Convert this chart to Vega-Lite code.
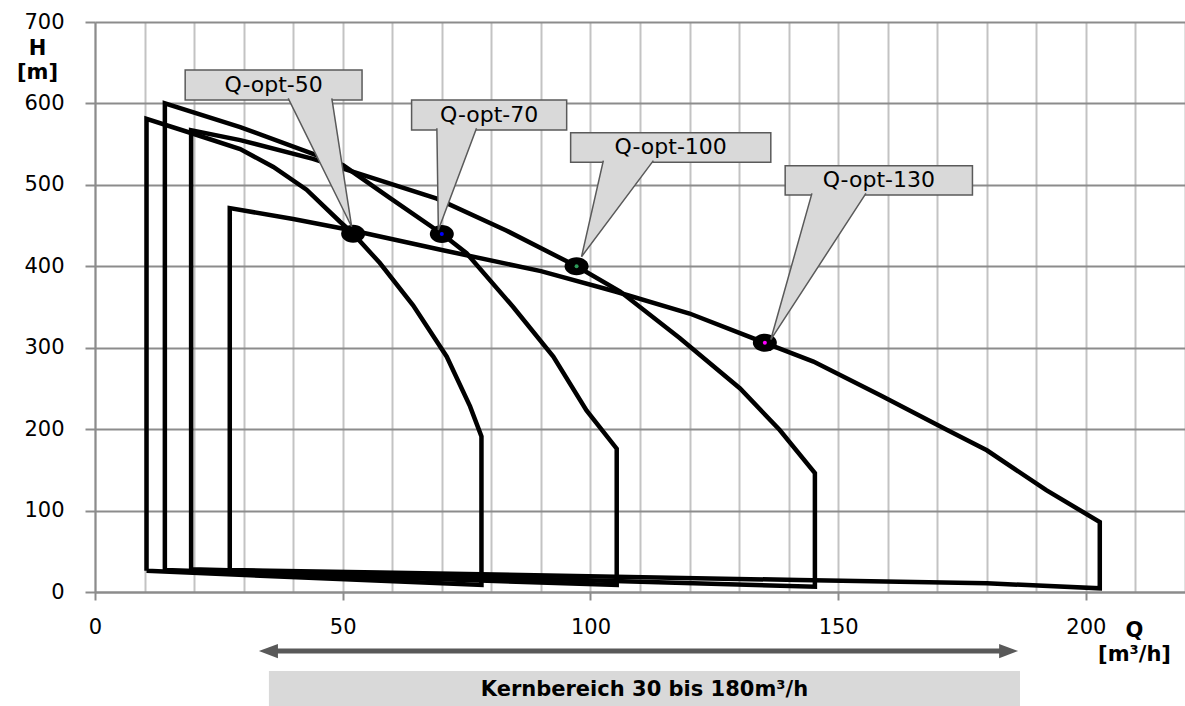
{
  "$schema": "https://vega.github.io/schema/vega-lite/v6.json",
  "width": 1090,
  "height": 570,
  "autosize": "none",
  "padding": {"left": 95, "top": 22, "right": 0, "bottom": 114},
  "background": "white",
  "config": {"view": {"stroke": null}, "font": "DejaVu Sans"},
  "datasets": {
    "pumps": [
      {"pump": "Q50", "i": 1, "q": 10.4, "h": 26},
      {"pump": "Q50", "i": 2, "q": 10.4, "h": 581},
      {"pump": "Q50", "i": 3, "q": 19.2, "h": 564},
      {"pump": "Q50", "i": 4, "q": 29.3, "h": 544},
      {"pump": "Q50", "i": 5, "q": 36, "h": 522},
      {"pump": "Q50", "i": 6, "q": 42.7, "h": 494},
      {"pump": "Q50", "i": 7, "q": 49.4, "h": 455},
      {"pump": "Q50", "i": 8, "q": 52.1, "h": 440},
      {"pump": "Q50", "i": 9, "q": 57.5, "h": 404},
      {"pump": "Q50", "i": 10, "q": 64.2, "h": 352},
      {"pump": "Q50", "i": 11, "q": 71, "h": 289},
      {"pump": "Q50", "i": 12, "q": 75.7, "h": 228},
      {"pump": "Q50", "i": 13, "q": 78, "h": 191},
      {"pump": "Q50", "i": 14, "q": 78, "h": 8.6},
      {"pump": "Q50", "i": 15, "q": 10.4, "h": 26},
      {"pump": "Q70", "i": 1, "q": 14.1, "h": 27},
      {"pump": "Q70", "i": 2, "q": 14.1, "h": 600},
      {"pump": "Q70", "i": 3, "q": 29.3, "h": 571},
      {"pump": "Q70", "i": 4, "q": 44, "h": 538},
      {"pump": "Q70", "i": 5, "q": 50.1, "h": 524},
      {"pump": "Q70", "i": 6, "q": 59.5, "h": 484},
      {"pump": "Q70", "i": 7, "q": 70, "h": 440},
      {"pump": "Q70", "i": 8, "q": 75, "h": 416},
      {"pump": "Q70", "i": 9, "q": 84.4, "h": 350},
      {"pump": "Q70", "i": 10, "q": 92.5, "h": 289},
      {"pump": "Q70", "i": 11, "q": 99.2, "h": 223},
      {"pump": "Q70", "i": 12, "q": 105.3, "h": 176},
      {"pump": "Q70", "i": 13, "q": 105.3, "h": 8.6},
      {"pump": "Q70", "i": 14, "q": 14.1, "h": 27},
      {"pump": "Q100", "i": 1, "q": 19.4, "h": 28},
      {"pump": "Q100", "i": 2, "q": 19.4, "h": 567},
      {"pump": "Q100", "i": 3, "q": 29.3, "h": 555},
      {"pump": "Q100", "i": 4, "q": 44, "h": 532},
      {"pump": "Q100", "i": 5, "q": 50.1, "h": 520},
      {"pump": "Q100", "i": 6, "q": 69, "h": 483},
      {"pump": "Q100", "i": 7, "q": 83, "h": 444},
      {"pump": "Q100", "i": 8, "q": 97.2, "h": 400},
      {"pump": "Q100", "i": 9, "q": 106, "h": 369},
      {"pump": "Q100", "i": 10, "q": 118, "h": 312},
      {"pump": "Q100", "i": 11, "q": 130.2, "h": 250},
      {"pump": "Q100", "i": 12, "q": 138.2, "h": 199},
      {"pump": "Q100", "i": 13, "q": 145.3, "h": 146},
      {"pump": "Q100", "i": 14, "q": 145.3, "h": 6.5},
      {"pump": "Q100", "i": 15, "q": 19.4, "h": 28},
      {"pump": "Q130", "i": 1, "q": 27.2, "h": 27},
      {"pump": "Q130", "i": 2, "q": 27.2, "h": 471.5},
      {"pump": "Q130", "i": 3, "q": 40, "h": 458},
      {"pump": "Q130", "i": 4, "q": 52, "h": 444},
      {"pump": "Q130", "i": 5, "q": 70, "h": 420},
      {"pump": "Q130", "i": 6, "q": 90, "h": 394},
      {"pump": "Q130", "i": 7, "q": 105, "h": 369},
      {"pump": "Q130", "i": 8, "q": 120, "h": 342},
      {"pump": "Q130", "i": 9, "q": 135.2, "h": 306},
      {"pump": "Q130", "i": 10, "q": 145, "h": 283},
      {"pump": "Q130", "i": 11, "q": 158.4, "h": 242},
      {"pump": "Q130", "i": 12, "q": 172, "h": 199},
      {"pump": "Q130", "i": 13, "q": 180, "h": 174},
      {"pump": "Q130", "i": 14, "q": 192, "h": 125},
      {"pump": "Q130", "i": 15, "q": 202.8, "h": 86},
      {"pump": "Q130", "i": 16, "q": 202.8, "h": 4.5},
      {"pump": "Q130", "i": 17, "q": 180, "h": 10.7},
      {"pump": "Q130", "i": 18, "q": 142, "h": 14.7},
      {"pump": "Q130", "i": 19, "q": 57.5, "h": 24},
      {"pump": "Q130", "i": 20, "q": 27.2, "h": 27}
    ],
    "optima": [
      {"q": 52.1, "h": 440, "inner": "#000000"},
      {"q": 70, "h": 439.5, "inner": "#0000ff"},
      {"q": 97.2, "h": 400, "inner": "#2e9c5a"},
      {"q": 135.2, "h": 306, "inner": "#ff00ff"}
    ],
    "boxes": [
      {"q": 18.2, "q2": 53.9, "h": 604.2, "h2": 641},
      {"q": 63.9, "q2": 95.2, "h": 567.4, "h2": 604.2},
      {"q": 96.0, "q2": 136.4, "h": 527.7, "h2": 564},
      {"q": 139.3, "q2": 177.1, "h": 487.5, "h2": 523.5}
    ],
    "pointers": [
      {"id": "Q50", "i": 1, "q": 39.0, "h": 606.2},
      {"id": "Q50", "i": 2, "q": 51.8, "h": 448.6},
      {"id": "Q50", "i": 3, "q": 47.8, "h": 606.2},
      {"id": "Q70", "i": 1, "q": 69.0, "h": 569.4},
      {"id": "Q70", "i": 2, "q": 69.3, "h": 444.5},
      {"id": "Q70", "i": 3, "q": 77.0, "h": 569.4},
      {"id": "Q100", "i": 1, "q": 102.6, "h": 529.7},
      {"id": "Q100", "i": 2, "q": 98.2, "h": 411.8},
      {"id": "Q100", "i": 3, "q": 112.7, "h": 529.7},
      {"id": "Q130", "i": 1, "q": 144.7, "h": 489.5},
      {"id": "Q130", "i": 2, "q": 136.4, "h": 310},
      {"id": "Q130", "i": 3, "q": 155.6, "h": 489.5}
    ],
    "labels": [
      {"q": 36.05, "h": 622.6, "text": "Q-opt-50"},
      {"q": 79.55, "h": 585.8, "text": "Q-opt-70"},
      {"q": 116.2, "h": 545.9, "text": "Q-opt-100"},
      {"q": 158.2, "h": 505.5, "text": "Q-opt-130"}
    ],
    "band": [{"q": 35.1, "q2": 186.7, "h": -97, "h2": -150}],
    "bandText": [{"q": 110.9, "h": -120, "text": "Kernbereich 30 bis 180m³/h"}],
    "arrow": [{"q": 35, "q2": 184.4, "h": -72.5}],
    "heads": [
      {"q": 35.0, "h": -72.5, "dir": "M -1 0 L 1 -0.75 L 1 0.75 Z"},
      {"q": 184.4, "h": -72.5, "dir": "M 1 0 L -1 -0.75 L -1 0.75 Z"}
    ]
  },
  "layer": [
    {
      "data": {"name": "pumps"},
      "mark": {"type": "line", "stroke": "#000000", "strokeWidth": 4.5, "strokeJoin": "miter", "clip": false},
      "encoding": {
        "x": {
          "field": "q", "type": "quantitative",
          "scale": {"domain": [0, 220], "nice": false, "zero": false},
          "axis": {
            "values": [0, 10, 20, 30, 40, 50, 60, 70, 80, 90, 100, 110, 120, 130, 140, 150, 160, 170, 180, 190, 200, 210, 220],
            "labelExpr": "datum.value % 50 === 0 ? datum.label : ''",
            "labelOverlap": false, "labelFlush": false,
            "labelFont": "DejaVu Sans", "labelFontSize": 21, "labelColor": "#000000", "labelPadding": 16,
            "grid": true, "gridColor": "#c3c3c3", "gridWidth": 2,
            "domainColor": "#8c8c8c", "domainWidth": 2,
            "tickColor": "#8c8c8c", "tickWidth": 2, "tickSize": 8,
            "tickOpacity": {"condition": {"test": "datum.value % 50 === 0", "value": 1}, "value": 0},
            "title": ["Q", "[m³/h]"],
            "titleFont": "DejaVu Sans", "titleFontSize": 21, "titleFontWeight": "bold", "titleColor": "#000000",
            "titleAngle": 0, "titleAlign": "center", "titleBaseline": "top", "titleLineHeight": 24,
            "titleX": 1039, "titleY": 27
          }
        },
        "y": {
          "field": "h", "type": "quantitative",
          "scale": {"domain": [0, 700], "nice": false},
          "axis": {
            "values": [0, 100, 200, 300, 400, 500, 600, 700],
            "labelFont": "DejaVu Sans", "labelFontSize": 21, "labelColor": "#000000", "labelPadding": 21,
            "grid": true, "gridColor": "#8c8c8c", "gridWidth": 2,
            "domainColor": "#8c8c8c", "domainWidth": 2,
            "tickColor": "#8c8c8c", "tickWidth": 2, "tickSize": 10,
            "title": ["H", "[m]"],
            "titleFont": "DejaVu Sans", "titleFontSize": 21, "titleFontWeight": "bold", "titleColor": "#000000",
            "titleAngle": 0, "titleAlign": "center", "titleBaseline": "top", "titleLineHeight": 24,
            "titleX": -58, "titleY": 15
          }
        },
        "detail": {"field": "pump", "type": "nominal"},
        "order": {"field": "i", "type": "quantitative"}
      }
    },
    {
      "data": {"name": "optima"},
      "mark": {"type": "point", "filled": true, "shape": "M -1 0 A 1 0.75 0 1 0 1 0 A 1 0.75 0 1 0 -1 0 Z", "size": 576, "color": "#000000", "opacity": 1},
      "encoding": {
        "x": {"field": "q", "type": "quantitative"},
        "y": {"field": "h", "type": "quantitative"}
      }
    },
    {
      "data": {"name": "optima"},
      "mark": {"type": "point", "filled": true, "shape": "circle", "size": 16, "opacity": 1},
      "encoding": {
        "x": {"field": "q", "type": "quantitative"},
        "y": {"field": "h", "type": "quantitative"},
        "color": {"field": "inner", "type": "nominal", "scale": null}
      }
    },
    {
      "data": {"name": "boxes"},
      "mark": {"type": "rect", "fill": "#d9d9d9", "stroke": "#5a5a5a", "strokeWidth": 1.5},
      "encoding": {
        "x": {"field": "q", "type": "quantitative"},
        "x2": {"field": "q2"},
        "y": {"field": "h", "type": "quantitative"},
        "y2": {"field": "h2"}
      }
    },
    {
      "data": {"name": "pointers"},
      "mark": {"type": "line", "fill": "#d9d9d9", "stroke": "#5a5a5a", "strokeWidth": 1.5},
      "encoding": {
        "x": {"field": "q", "type": "quantitative"},
        "y": {"field": "h", "type": "quantitative"},
        "detail": {"field": "id", "type": "nominal"},
        "order": {"field": "i", "type": "quantitative"}
      }
    },
    {
      "data": {"name": "labels"},
      "mark": {"type": "text", "font": "DejaVu Sans", "fontSize": 22, "color": "#000000", "align": "center", "baseline": "middle"},
      "encoding": {
        "x": {"field": "q", "type": "quantitative"},
        "y": {"field": "h", "type": "quantitative"},
        "text": {"field": "text", "type": "nominal"}
      }
    },
    {
      "data": {"name": "band"},
      "mark": {"type": "rect", "fill": "#d9d9d9", "clip": false},
      "encoding": {
        "x": {"field": "q", "type": "quantitative"},
        "x2": {"field": "q2"},
        "y": {"field": "h", "type": "quantitative"},
        "y2": {"field": "h2"}
      }
    },
    {
      "data": {"name": "bandText"},
      "mark": {"type": "text", "font": "DejaVu Sans", "fontSize": 21, "fontWeight": "bold", "color": "#000000", "align": "center", "baseline": "middle"},
      "encoding": {
        "x": {"field": "q", "type": "quantitative"},
        "y": {"field": "h", "type": "quantitative"},
        "text": {"field": "text", "type": "nominal"}
      }
    },
    {
      "data": {"name": "arrow"},
      "mark": {"type": "rule", "color": "#595959", "strokeWidth": 5},
      "encoding": {
        "x": {"field": "q", "type": "quantitative"},
        "x2": {"field": "q2"},
        "y": {"field": "h", "type": "quantitative"}
      }
    },
    {
      "data": {"name": "heads"},
      "mark": {"type": "point", "filled": true, "size": 361, "color": "#595959", "opacity": 1},
      "encoding": {
        "x": {"field": "q", "type": "quantitative"},
        "y": {"field": "h", "type": "quantitative"},
        "shape": {"field": "dir", "type": "nominal", "scale": null}
      }
    }
  ]
}
